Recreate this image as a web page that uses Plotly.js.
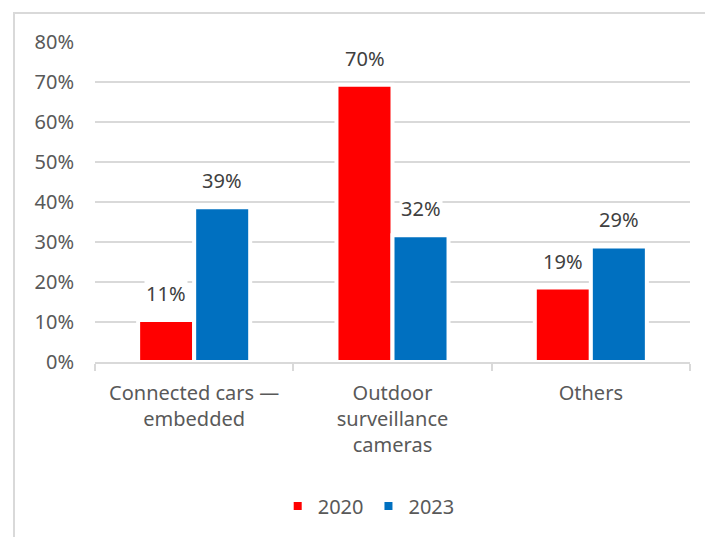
<!DOCTYPE html>
<html>
<head>
<meta charset="utf-8">
<script src="https://cdn.plot.ly/plotly-3.0.1.min.js"></script>
<style>
  html, body { margin: 0; padding: 0; background: #fff; }
  #wrap { position: relative; width: 705px; height: 537px; overflow: hidden; }
  #chart { position: absolute; left: 0; top: 0; width: 705px; height: 537px; }
  #frame { position: absolute; left: 13px; top: 12px; width: 800px; height: 700px;
           border-left: 2px solid #d9d9d9; border-top: 2px solid #d9d9d9; pointer-events: none; }
</style>
</head>
<body>
<div id="wrap">
  <div id="chart"></div>
  <div id="frame"></div>
</div>
<script>
const categories = ["Connected cars —<br>embedded", "Outdoor<br>surveillance<br>cameras", "Others"];
const seriesNames = ["2020", "2023"];
const values2020 = [0.105, 0.693, 0.186];
const values2023 = [0.387, 0.317, 0.289];
const labels2020 = ["11%", "70%", "19%"];
const labels2023 = ["39%", "32%", "29%"];
const yTickVals = [0, 0.1, 0.2, 0.3, 0.4, 0.5, 0.6, 0.7, 0.8];
const yTickText = ["0%", "10%", "20%", "30%", "40%", "50%", "60%", "70%", "80%"];

const FONT = "Noto Sans, Open Sans, sans-serif";
const colors = ["#ff0000", "#0070c0"];

const traces = [
  { type: "bar", name: seriesNames[0], x: categories, y: values2020,
    marker: { color: colors[0], line: { color: "#ffffff", width: 4 } }, hoverinfo: "skip" },
  { type: "bar", name: seriesNames[1], x: categories, y: values2023,
    marker: { color: colors[1], line: { color: "#ffffff", width: 4 } }, hoverinfo: "skip" }
];

const annotations = [];
[[values2020, labels2020, -28], [values2023, labels2023, 28]].forEach(([vals, labs, xs]) => {
  vals.forEach((v, i) => {
    annotations.push({
      x: categories[i], y: v, xref: "x", yref: "y", text: labs[i],
      showarrow: false, xanchor: "center", yanchor: "bottom", xshift: xs, yshift: 11,
      bgcolor: "#ffffff", borderpad: 1,
      font: { family: FONT, size: 20, color: "#404040" }
    });
  });
});

const layout = {
  width: 705, height: 537,
  margin: { l: 95, r: 15, t: 42, b: 173 },
  paper_bgcolor: "rgba(0,0,0,0)", plot_bgcolor: "rgba(0,0,0,0)",
  barmode: "group", bargap: 0.435, bargroupgap: 0,
  font: { family: FONT, size: 20, color: "#595959" },
  xaxis: {
    type: "category", tickson: "boundaries", ticks: "outside", ticklen: 7, tickwidth: 2,
    tickcolor: "#d9d9d9", showline: true, linecolor: "#d9d9d9", linewidth: 2,
    showgrid: false, ticklabelstandoff: 12, zeroline: false,
    tickfont: { family: FONT, size: 20, color: "#595959" }
  },
  yaxis: {
    range: [0, 0.8], tickvals: yTickVals, ticktext: yTickText,
    showgrid: true, gridcolor: "#d9d9d9", gridwidth: 2, zeroline: false,
    showline: false, ticks: "", ticklabelstandoff: 20,
    tickfont: { family: FONT, size: 20, color: "#595959" }
  },
  showlegend: true,
  legend: {
    orientation: "h", x: 0.46, xanchor: "center", y: -0.45, yanchor: "middle",
    font: { family: FONT, size: 20, color: "#595959" }, itemwidth: 30, traceorder: "normal"
  },
  annotations: annotations
};

Plotly.newPlot("chart", traces, layout, { displayModeBar: false, staticPlot: true });
</script>
</body>
</html>
